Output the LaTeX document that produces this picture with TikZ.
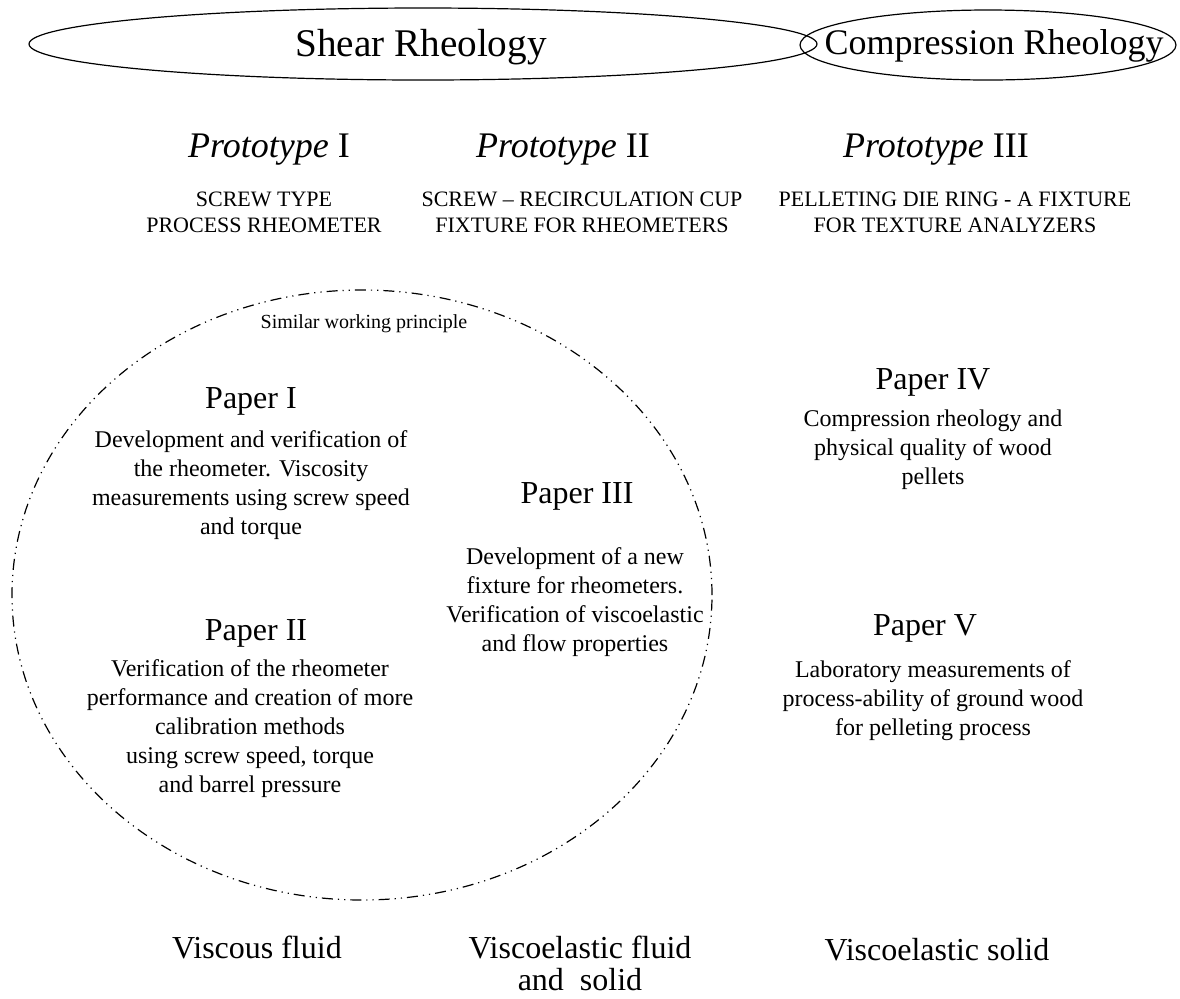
\documentclass[tikz,border=0pt]{standalone}
\usepackage{fontspec}
\setmainfont{Liberation Serif}
\usetikzlibrary{shapes.geometric,positioning}

\tikzset{
  rheobox/.style={ellipse,draw,line width=0.6pt,inner sep=0pt},
  head/.style={font=\fontsize{19.6}{22}\selectfont},
  proto/.style={font=\fontsize{18}{22}\selectfont},
  protocap/.style={font=\fontsize{11}{13}\selectfont,align=center},
  ptitle/.style={font=\fontsize{16}{19}\selectfont},
  pbody/.style={font=\fontsize{12}{14.5}\selectfont,align=center},
  phase/.style={font=\fontsize{16}{16}\selectfont,align=center},
  dashdotdot/.style={line width=0.6pt,dash pattern=on 5.5pt off 2.5pt on 0.6pt off 2.5pt on 0.6pt off 2.5pt}
}

\begin{document}
\begin{tikzpicture}[x=0.5pt,y=-0.5pt]
  \useasboundingbox (0,0) rectangle (1180,998);
  % the two rheology headings
  \node[rheobox,minimum width=394pt,minimum height=36pt] (shear) at (423,44) {};
  \node[rheobox,minimum width=188pt,minimum height=35pt] (compr) at (988,45) {};
  \node[head] (shearlbl) at (421,47) {Shear Rheology};
  \node[head,font=\fontsize{18}{22}\selectfont] (comprlbl) at (994,46) {Compression Rheology};
  % prototypes
  \node[proto] (proto1) at (269,150) {\textit{Prototype} I};
  \node[proto] (proto2) at (563,150) {\textit{Prototype} II};
  \node[proto] (proto3) at (936,150) {\textit{Prototype} III};
  \node[protocap] (cap1) at (264,212) {SCREW TYPE\\PROCESS RHEOMETER};
  \node[protocap] (cap2) at (582,212) {SCREW -- RECIRCULATION CUP\\FIXTURE FOR RHEOMETERS};
  \node[protocap] (cap3) at (955,212) {PELLETING DIE RING - A FIXTURE\\FOR TEXTURE ANALYZERS};
  % group with similar working principle
  \node[ellipse,draw,dashdotdot,minimum width=350pt,minimum height=305pt] (group) at (362,595) {};
  \node[font=\fontsize{10}{12}\selectfont] (grouplbl) at (364,324) {Similar working principle};
  % papers
  \node[ptitle] (paper1) at (251,401) {Paper I};
  \node[pbody] (body1) at (251,485) {Development and verification of\\the rheometer. Viscosity\\measurements using screw speed\\and torque};
  \node[ptitle] (paper2) at (256,633) {Paper II};
  \node[pbody] (body2) at (250,729) {Verification of the rheometer\\performance and creation of more\\calibration methods\\using screw speed, torque\\and barrel pressure};
  \node[ptitle] (paper3) at (577,496) {Paper III};
  \node[pbody] (body3) at (575,602) {Development of a new\\fixture for rheometers.\\Verification of viscoelastic\\and flow properties};
  \node[ptitle] (paper4) at (933,382) {Paper IV};
  \node[pbody] (body4) at (933,450) {Compression rheology and\\physical quality of wood\\pellets};
  \node[ptitle] (paper5) at (925,628) {Paper V};
  \node[pbody] (body5) at (933,701) {Laboratory measurements of\\process-ability of ground wood\\for pelleting process};
  % material behaviour
  \node[phase] (fluid) at (257,947) {Viscous fluid};
  \node[phase] (vefluid) at (580,963) {Viscoelastic fluid\\and~ solid};
  \node[phase] (vesolid) at (937,950) {Viscoelastic solid};
\end{tikzpicture}
\end{document}
